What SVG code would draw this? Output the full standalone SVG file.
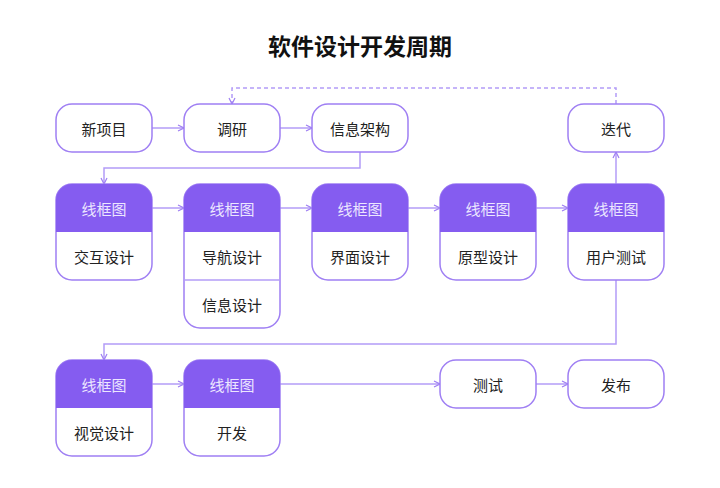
<svg xmlns="http://www.w3.org/2000/svg" width="720" height="488" viewBox="0 0 720 488">
<defs>
<style>
.box{fill:#ffffff;stroke:#9f7ff3;stroke-width:1.5}
.hdr{fill:#855cf0}
.div{stroke:#b39cf7;stroke-width:1.5}
.t{font-family:"Noto Sans CJK SC","Noto Sans",sans-serif;font-size:15px;fill:#222222;text-anchor:middle;dominant-baseline:central}
.ht{font-family:"Noto Sans CJK SC","Noto Sans",sans-serif;font-size:15px;fill:#ece6ff;text-anchor:middle;dominant-baseline:central}
.title{font-family:"Noto Sans CJK SC","Noto Sans",sans-serif;font-size:23px;font-weight:bold;fill:#111111;text-anchor:middle;dominant-baseline:central}
.c{fill:none;stroke:#b39cf7;stroke-width:1.5;marker-end:url(#ah)}
.d{stroke-dasharray:4 3}
</style>
<marker id="ah" viewBox="0 0 8 8" refX="7" refY="4" markerWidth="8" markerHeight="8" markerUnits="userSpaceOnUse" orient="auto">
<path d="M1,1 L7,4 L1,7" fill="none" stroke="#9f7ff3" stroke-width="1.2"/>
</marker>
</defs>
<rect width="720" height="488" fill="#ffffff"/>
<text class="title" x="360" y="45">软件设计开发周期</text>

<g id="connectors">
<path class="c" d="M152,128 H184"/>
<path class="c" d="M280,128 H312"/>
<path class="c" d="M360,152 V168 H104 V184"/>
<path class="c d" d="M616,104 V88 H232 V104"/>
<path class="c" d="M152,208 H184"/>
<path class="c" d="M280,208 H312"/>
<path class="c" d="M408,208 H440"/>
<path class="c" d="M536,208 H568"/>
<path class="c" d="M616,184 V152"/>
<path class="c" d="M616,280 V344 H104 V360"/>
<path class="c" d="M152,384 H184"/>
<path class="c" d="M280,384 H440"/>
<path class="c" d="M536,384 H568"/>
</g>

<g id="n-new"><rect class="box" x="56" y="104" width="96" height="48" rx="16"/><text class="t" x="104" y="128">新项目</text></g>
<g id="n-research"><rect class="box" x="184" y="104" width="96" height="48" rx="16"/><text class="t" x="232" y="128">调研</text></g>
<g id="n-ia"><rect class="box" x="312" y="104" width="96" height="48" rx="16"/><text class="t" x="360" y="128">信息架构</text></g>
<g id="n-iterate"><rect class="box" x="568" y="104" width="96" height="48" rx="16"/><text class="t" x="616" y="128">迭代</text></g>

<g id="n-interaction">
<rect class="box" x="56" y="184" width="96" height="96" rx="16"/>
<path class="hdr" d="M56,232 V200 A16,16 0 0 1 72,184 H136 A16,16 0 0 1 152,200 V232 Z"/>
<text class="ht" x="104" y="208">线框图</text>
<text class="t" x="104" y="256">交互设计</text>
</g>
<g id="n-nav">
<rect class="box" x="184" y="184" width="96" height="144" rx="16"/>
<path class="hdr" d="M184,232 V200 A16,16 0 0 1 200,184 H264 A16,16 0 0 1 280,200 V232 Z"/>
<line class="div" x1="184" y1="280" x2="280" y2="280"/>
<text class="ht" x="232" y="208">线框图</text>
<text class="t" x="232" y="256">导航设计</text>
<text class="t" x="232" y="304">信息设计</text>
</g>
<g id="n-ui">
<rect class="box" x="312" y="184" width="96" height="96" rx="16"/>
<path class="hdr" d="M312,232 V200 A16,16 0 0 1 328,184 H392 A16,16 0 0 1 408,200 V232 Z"/>
<text class="ht" x="360" y="208">线框图</text>
<text class="t" x="360" y="256">界面设计</text>
</g>
<g id="n-proto">
<rect class="box" x="440" y="184" width="96" height="96" rx="16"/>
<path class="hdr" d="M440,232 V200 A16,16 0 0 1 456,184 H520 A16,16 0 0 1 536,200 V232 Z"/>
<text class="ht" x="488" y="208">线框图</text>
<text class="t" x="488" y="256">原型设计</text>
</g>
<g id="n-usertest">
<rect class="box" x="568" y="184" width="96" height="96" rx="16"/>
<path class="hdr" d="M568,232 V200 A16,16 0 0 1 584,184 H648 A16,16 0 0 1 664,200 V232 Z"/>
<text class="ht" x="616" y="208">线框图</text>
<text class="t" x="616" y="256">用户测试</text>
</g>

<g id="n-visual">
<rect class="box" x="56" y="360" width="96" height="96" rx="16"/>
<path class="hdr" d="M56,408 V376 A16,16 0 0 1 72,360 H136 A16,16 0 0 1 152,376 V408 Z"/>
<text class="ht" x="104" y="384">线框图</text>
<text class="t" x="104" y="432">视觉设计</text>
</g>
<g id="n-dev">
<rect class="box" x="184" y="360" width="96" height="96" rx="16"/>
<path class="hdr" d="M184,408 V376 A16,16 0 0 1 200,360 H264 A16,16 0 0 1 280,376 V408 Z"/>
<text class="ht" x="232" y="384">线框图</text>
<text class="t" x="232" y="432">开发</text>
</g>
<g id="n-test"><rect class="box" x="440" y="360" width="96" height="48" rx="16"/><text class="t" x="488" y="384">测试</text></g>
<g id="n-release"><rect class="box" x="568" y="360" width="96" height="48" rx="16"/><text class="t" x="616" y="384">发布</text></g>
</svg>
